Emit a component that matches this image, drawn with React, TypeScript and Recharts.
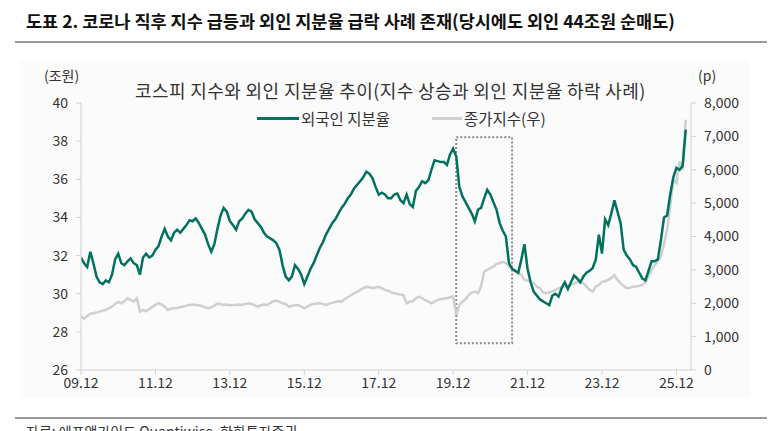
import React from 'react';
import { LineChart, Line, XAxis, YAxis, ReferenceArea } from 'recharts';

const foreignShare: number[] = [
  31.9, 31.6, 31.4, 32.2, 31.6, 30.9, 30.6, 30.5, 30.7, 30.6,
  31.0, 31.8, 32.1, 31.6, 31.5, 31.7, 31.85, 31.6, 31.5, 31.0,
  31.9, 32.1, 31.9, 32.0, 32.3, 32.5, 33.0, 33.4, 33.0, 32.8,
  33.2, 33.35, 33.2, 33.4, 33.6, 33.85, 33.8, 33.95, 33.7, 33.4,
  33.1, 32.6, 32.2, 32.6, 33.4, 34.1, 34.5, 34.3, 33.8, 33.6,
  33.35, 33.8, 33.95, 34.2, 34.4, 34.3, 33.9, 33.7, 33.5, 33.2,
  33.0, 32.9, 32.8, 32.65, 32.3, 31.5, 30.9, 30.7, 30.9, 31.5,
  31.3, 31.0, 30.5, 30.9, 31.3, 31.6, 32.0, 32.4, 32.7, 33.1,
  33.4, 33.7, 33.9, 34.2, 34.5, 34.7, 35.0, 35.2, 35.5, 35.7,
  35.9, 36.1, 36.4, 36.3, 36.05, 35.6, 35.2, 35.3, 35.2, 35.0,
  35.0, 35.2, 35.25, 34.9, 34.75, 35.2, 34.7, 34.55, 35.4, 35.6,
  35.9, 35.8, 35.95, 36.5, 37.0, 36.95, 36.9, 36.9, 36.75, 37.3,
  37.6, 37.2, 35.6, 35.1, 34.8, 34.5, 34.2, 33.8, 34.4, 34.5,
  35.0, 35.45, 35.2, 34.8, 34.4, 33.7, 33.3, 33.0, 31.6, 31.3,
  31.2, 31.1, 31.8, 32.6, 31.3, 30.6, 30.1, 29.9, 29.7, 29.6,
  29.5, 29.4, 29.9, 30.0, 29.85, 30.3, 30.6, 30.25, 30.6, 30.95,
  30.8, 30.6, 30.9, 31.1, 31.2, 31.35, 31.8, 33.1, 32.1, 33.9,
  33.6, 34.2, 34.9, 34.3, 33.7, 32.3, 32.0, 31.8, 31.5, 31.4,
  31.1, 30.8, 30.7, 31.2, 31.7, 31.7, 31.8, 32.8, 34.0, 34.1,
  35.2, 36.1, 36.6, 36.5, 36.7, 38.6,
];

const kospiClose: number[] = [
  1600, 1540, 1620, 1690, 1700, 1720, 1750, 1780, 1800, 1850,
  1900, 1980, 2040, 2000, 2060, 2150, 2100, 2050, 2150, 1750,
  1800, 1760, 1830, 1890, 1950, 2000, 1960, 1900, 1800, 1840,
  1850, 1860, 1880, 1900, 1930, 1950, 1960, 1950, 1940, 1920,
  1880, 1850, 1880, 1930, 1990, 1970, 1950, 1960, 1940, 1950,
  1950, 1960, 1950, 1980, 2000, 1980, 1940, 1900, 1940, 1960,
  1950, 2000, 2060, 2080, 2040, 2000, 1980, 1900, 1920, 1940,
  1950, 1900, 1850, 1900, 1950, 1980, 1990, 2000, 1980, 1950,
  1990, 2010, 2040, 2060, 2050, 2120, 2180, 2240, 2300, 2340,
  2400, 2450, 2490, 2480, 2450, 2470, 2490, 2450, 2400, 2380,
  2330, 2300, 2280, 2260, 2240, 2000, 2050, 2060, 2150, 2200,
  2150, 2090, 2050, 2000, 2050, 2100, 2120, 2140, 2150, 2180,
  2200, 1650, 1950, 2050, 2120, 2250, 2320, 2350, 2300, 2500,
  2950, 3000, 3050, 3100, 3180, 3200, 3240, 3200, 3100, 3050,
  2980, 2900, 2850, 2700, 2680, 2650, 2600, 2500, 2450, 2320,
  2300, 2330, 2350, 2400, 2450, 2470, 2500, 2510, 2550, 2590,
  2640, 2620, 2600, 2500, 2400, 2350, 2500, 2550, 2640, 2660,
  2700, 2760, 2840, 2700, 2600, 2520, 2450, 2460, 2500, 2500,
  2520, 2550, 2640, 2800, 3000, 3150, 3250, 3400, 3780, 4200,
  4900, 5700, 5600, 6250, 6000, 7500,
];

const startYear = 2009;
const startMonth = 12;
const months: string[] = foreignShare.map((_, i) => {
  const total = startYear * 12 + (startMonth - 1) + i;
  const y = Math.floor(total / 12) % 100;
  const m = (total % 12) + 1;
  return `${String(y).padStart(2, '0')}.${String(m).padStart(2, '0')}`;
});

const xTickLabels = ['09.12', '11.12', '13.12', '15.12', '17.12', '19.12', '21.12', '23.12', '25.12'];
const leftTicks = [26, 28, 30, 32, 34, 36, 38, 40];
const rightTicks = [0, 1000, 2000, 3000, 4000, 5000, 6000, 7000, 8000];

// highlighted period (COVID rally)
const highlightStart = '20.01';
const highlightEnd = '21.07';
const highlightLow = 27.4;
const highlightHigh = 38.2;

const data = months.map((m, i) => ({ idx: i, month: m, share: foreignShare[i], kospi: kospiClose[i] }));
const xTicks = xTickLabels.map((l) => months.indexOf(l));

const FONT = '"Noto Sans CJK KR", "Noto Sans", sans-serif';
const GREEN = '#00705f';
const GRAY = '#cfcfcf';
const AXIS = '#d0d0d0';

export default function App() {
  return (
    <div style={{ position: 'absolute', left: 0, top: 0, width: 777, height: 431, background: '#fff', overflow: 'hidden', fontFamily: FONT, color: '#222' }}>
      <div style={{ position: 'absolute', left: 26, top: 8, fontSize: 17.5, fontWeight: 700, whiteSpace: 'nowrap', color: '#111' }}>
        도표 2. 코로나 직후 지수 급등과 외인 지분율 급락 사례 존재(당시에도 외인 44조원 순매도)
      </div>
      <div style={{ position: 'absolute', left: 15, top: 41, width: 752, height: 2, background: '#9a9a9a' }} />
      <div style={{ position: 'absolute', left: 20, top: 60, width: 730, height: 338, background: '#fbfbfb' }} />

      <div style={{ position: 'absolute', left: 0, top: 0 }}>
        <LineChart width={777} height={431} data={data} margin={{ top: 103, right: 0, bottom: 31, left: 0 }}>
          <XAxis
            dataKey="idx"
            type="number"
            domain={[0, 196.7]}
            ticks={xTicks}
            tickFormatter={(v: number) => months[v]}
            tick={{ fill: '#333', fontSize: 14, fontFamily: FONT }}
            axisLine={{ stroke: AXIS }}
            tickLine={{ stroke: AXIS }}
            tickSize={5}
            tickMargin={3}
            height={30}
            interval={0}
            allowDataOverflow
          />
          <YAxis
            yAxisId="left"
            domain={[26, 40]}
            ticks={leftTicks}
            tick={{ fill: '#333', fontSize: 14, fontFamily: FONT }}
            axisLine={{ stroke: AXIS }}
            tickLine={{ stroke: AXIS }}
            tickSize={5}
            tickMargin={8}
            width={81}
            interval={0}
          />
          <YAxis
            yAxisId="right"
            orientation="right"
            domain={[0, 8000]}
            ticks={rightTicks}
            tickFormatter={(v: number) => v.toLocaleString('en-US')}
            tick={{ fill: '#333', fontSize: 14, fontFamily: FONT }}
            axisLine={{ stroke: AXIS }}
            tickLine={{ stroke: AXIS }}
            tickSize={5}
            tickMargin={8}
            width={86}
            interval={0}
          />
          <Line yAxisId="right" dataKey="kospi" stroke={GRAY} strokeWidth={2.5} dot={false} isAnimationActive={false} />
          <Line yAxisId="left" dataKey="share" stroke={GREEN} strokeWidth={2.5} dot={false} isAnimationActive={false} />
          <ReferenceArea
            yAxisId="left"
            x1={months.indexOf(highlightStart)}
            x2={months.indexOf(highlightEnd)}
            y1={highlightLow}
            y2={highlightHigh}
            fill="none"
            fillOpacity={0}
            stroke="#8a8a8a"
            strokeWidth={2}
            strokeDasharray="2 2"
            ifOverflow="visible"
          />
        </LineChart>
      </div>

      <div style={{ position: 'absolute', left: 44, top: 65, fontSize: 14, color: '#333' }}>(조원)</div>
      <div style={{ position: 'absolute', left: 698, top: 65, fontSize: 14, color: '#333' }}>(p)</div>
      <div style={{ position: 'absolute', left: 135, top: 77, fontSize: 18, letterSpacing: 0.4, color: '#333', whiteSpace: 'nowrap' }}>
        코스피 지수와 외인 지분율 추이(지수 상승과 외인 지분율 하락 사례)
      </div>
      <div style={{ position: 'absolute', left: 257, top: 107, display: 'flex', alignItems: 'center', fontSize: 15.5, color: '#333', whiteSpace: 'nowrap' }}>
        <span style={{ display: 'inline-block', width: 42, height: 3, background: GREEN }} />
        <span style={{ marginLeft: 2 }}>외국인 지분율</span>
        <span style={{ display: 'inline-block', width: 30, height: 3, background: GRAY, marginLeft: 42 }} />
        <span style={{ marginLeft: 2 }}>종가지수(우)</span>
      </div>

      <div style={{ position: 'absolute', left: 15, top: 417, width: 752, height: 1.5, background: '#9a9a9a' }} />
      <div style={{ position: 'absolute', left: 26, top: 421, fontSize: 14, color: '#333', whiteSpace: 'nowrap' }}>
        자료: 에프앤가이드 Quantiwise, 한화투자증권
      </div>
    </div>
  );
}
